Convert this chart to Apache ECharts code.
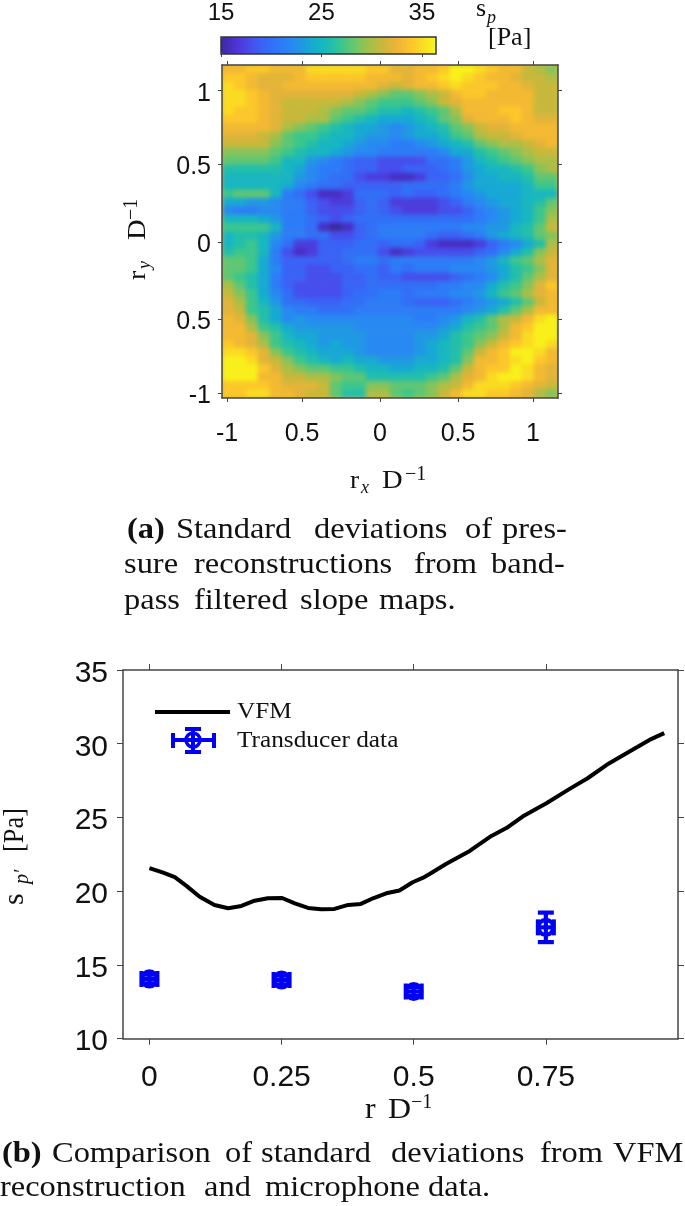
<!DOCTYPE html>
<html><head><meta charset="utf-8">
<style>html,body{margin:0;padding:0;background:#fff}
#c{position:absolute;left:0;top:0;width:685px;height:1206px;z-index:2}
#clip{position:absolute;left:222px;top:65px;width:336px;height:333px;overflow:hidden;background:#d0b83a;z-index:1}
#heat{width:336px;height:333px;filter:blur(2px)}</style>
<script src="https://cdn.jsdelivr.net/npm/echarts@6/dist/echarts.min.js"></script>
</head><body><div id="clip"><div id="heat"></div></div><div id="c"></div>
<script>
const mapRows = [
[33,33,34,34,33,33,33,35,35,35,35,35,34,34,32,32,33,33,34,36,36,35,34,33,33,31,30,29],
[34,34,33,32,32,32,33,34,34,34,34,34,33,33,33,32,33,34,35,36,35,34,33,33,32,31,31,30],
[35,34,33,32,32,33,33,33,33,33,33,33,33,32,31,32,33,33,34,35,34,34,34,33,33,32,31,31],
[35,35,34,33,32,32,32,32,32,32,32,31,30,29,28,28,29,30,31,33,34,34,33,33,33,33,31,31],
[35,35,34,33,32,31,31,31,31,31,30,29,28,27,27,27,28,29,31,32,33,33,33,33,33,33,31,31],
[35,34,34,33,32,31,31,31,30,29,28,28,27,26,26,25,26,27,28,30,33,33,33,34,34,33,31,31],
[34,34,34,33,32,31,31,30,30,28,27,26,25,24,24,24,25,26,28,29,32,33,33,33,34,33,32,32],
[33,33,33,33,32,30,29,28,27,26,25,24,24,23,22,23,24,25,26,28,29,31,32,32,33,33,33,33],
[32,32,32,31,30,28,27,27,26,25,25,24,23,23,22,23,24,24,25,27,28,30,31,31,32,33,33,33],
[31,31,31,31,29,28,27,26,25,25,24,23,22,22,21,21,22,23,24,25,26,28,29,30,30,31,32,33],
[29,29,29,29,28,27,26,25,25,24,23,22,22,21,21,21,21,21,22,24,24,26,27,28,29,30,31,31],
[28,28,28,28,27,25,25,23,22,21,20,19,19,18,18,18,18,20,20,21,23,25,26,27,28,29,30,30],
[26,26,26,26,26,25,24,22,21,21,20,19,19,18,18,19,19,19,20,21,23,24,25,25,26,27,29,30],
[25,25,25,25,25,25,23,22,21,20,20,18,17,17,16,16,17,19,19,20,22,24,24,25,25,26,28,28],
[25,25,25,25,25,24,22,21,20,20,19,19,19,19,19,20,20,20,20,21,23,24,24,24,24,25,27,27],
[27,28,28,28,25,21,20,18,16,16,17,20,20,20,19,20,19,19,20,21,22,23,24,24,24,25,25,25],
[24,24,23,23,22,21,21,19,18,17,17,19,20,19,17,17,17,17,18,19,21,22,23,24,24,25,26,28],
[22,21,21,22,22,21,21,19,18,18,18,19,20,19,18,17,17,17,18,18,19,21,22,23,24,25,27,29],
[25,25,25,24,23,21,21,20,19,18,19,20,20,20,20,20,20,20,20,20,20,21,22,23,24,25,27,30],
[27,27,27,27,25,21,21,20,16,15,16,19,20,21,21,21,21,21,21,21,22,22,23,23,25,26,28,31],
[25,26,26,25,23,21,21,20,20,18,18,19,20,21,21,21,21,20,19,19,20,21,23,24,25,26,28,29],
[25,26,27,25,22,20,17,17,19,19,19,20,20,19,20,20,19,17,16,16,16,17,19,21,22,24,26,30],
[26,27,27,25,21,18,16,17,19,19,20,20,20,18,16,17,18,18,18,18,18,19,20,22,24,26,29,31],
[28,28,27,24,21,19,19,19,19,19,20,21,21,20,21,21,21,21,21,21,21,22,23,25,27,28,30,32],
[28,28,27,24,22,19,19,18,18,19,19,20,20,19,21,20,21,21,21,22,22,22,23,24,26,27,29,32],
[28,27,26,24,21,19,19,18,18,18,19,19,20,19,19,18,18,18,18,19,20,21,22,24,26,28,30,32],
[30,28,26,24,21,19,18,18,18,18,19,19,20,20,20,20,20,20,21,21,22,22,24,26,27,29,32,34],
[31,29,27,24,22,20,18,18,18,18,19,20,20,21,21,20,21,21,21,22,22,23,25,27,28,30,32,33],
[32,30,27,25,23,20,20,19,19,19,20,20,21,21,21,20,19,19,19,20,21,22,23,24,26,28,31,33],
[32,31,27,26,24,22,21,21,20,20,20,21,21,21,21,21,21,21,21,21,22,23,24,26,28,30,33,33],
[33,32,29,26,24,22,23,22,22,22,22,22,22,22,22,22,21,21,22,23,25,26,28,30,31,33,35,36],
[33,33,30,27,26,24,23,23,23,23,23,22,22,22,22,22,22,22,23,24,26,27,28,30,33,34,36,36],
[33,33,32,29,27,25,24,24,23,23,23,23,22,22,22,22,23,23,24,26,27,28,29,31,33,35,36,36],
[34,33,32,30,27,26,25,24,23,24,23,23,22,22,22,22,23,24,25,26,27,29,31,33,34,35,36,35],
[35,35,34,32,29,27,26,25,24,24,24,23,22,22,22,22,23,24,25,26,28,31,33,34,36,36,35,33],
[36,36,35,32,31,29,27,26,25,24,25,24,24,23,23,23,24,24,25,26,29,33,33,34,35,36,34,33],
[36,36,36,34,32,30,29,28,28,27,27,26,25,25,24,24,25,25,26,28,31,33,34,34,36,35,33,32],
[36,36,36,33,33,31,31,30,30,29,28,28,26,26,26,26,26,27,28,30,32,33,35,36,36,35,33,32],
[34,34,34,34,33,32,32,32,31,28,27,27,29,29,28,28,28,29,30,31,33,35,35,35,34,33,32,31],
[34,34,35,35,33,33,32,31,31,28,26,26,30,30,28,27,28,29,31,33,35,35,34,34,33,32,30,29]
];
const colorStops = ['#3a2a9e','#4d30d0','#4a48ea','#3a62f6','#2f74f8','#2a84f6','#2098e4','#14b0cc','#1cbcb4','#3cc68c','#6cc66a','#a4c04a','#c8b83a','#ecb238','#fcc22c','#fadc22','#f8f818'];
const cbarTicks = [15,25,35];
const xMapTicks = [-1,-0.51,0,0.51,1];
const xMapLabels = ['-1','0.5','0','0.5','1'];
const yMapTicks = [-1,-0.51,0,0.515,1];
const yMapLabels = ['-1','0.5','0','0.5','1'];

const vfmR = [0,.026,.048,.07,.095,.123,.149,.174,.199,.224,.251,.275,.30,.325,.35,.376,.40,.423,.448,.473,.498,.517,.53,.561,.606,.647,.678,.706,.751,.795,.829,.87,.914,.946,.974];
const vfmS = [21.56,21.26,20.95,20.36,19.63,19.07,18.85,19.0,19.36,19.52,19.54,19.18,18.87,18.78,18.8,19.07,19.14,19.52,19.86,20.05,20.61,20.9,21.17,21.85,22.73,23.75,24.34,25.06,25.97,26.94,27.66,28.68,29.59,30.26,30.72];
const micR = [0,.25,.5,.75];
const micS = [14.05,13.98,13.2,17.55];
const micSErr = [.3,.3,.3,1.0];
const micRErr = [.015,.015,.015,.015];
const lineTicks = [0,.25,.5,.75];
const lineLabels = ['0','0.25','0.5','0.75'];

const SERIF='"Liberation Serif","Times New Roman",serif', SANS='"Liberation Sans",Arial,sans-serif';
const AX='#444', BLUE='#0000f5';
function T(x,base,text,size,o){o=o||{};
  return {type:'text',x:x,y:base-0.33*size,scaleX:o.sx||1,z:20,silent:true,
    style:{text:text,fill:'#111',font:(o.style||'')+' '+size+'px '+SERIF,textAlign:'left',textVerticalAlign:'middle'}};}
function R(baseX,y,text,size,o){o=o||{};
  return {type:'text',x:baseX-0.33*size,y:y,rotation:Math.PI/2,scaleX:o.sx||1,z:20,silent:true,
    style:{text:text,fill:'#111',font:(o.style||'')+' '+size+'px '+SERIF,textAlign:'left',textVerticalAlign:'middle'}};}
const SX=1.1, FS=29.5;
function line(base,words){return words.map(w=>T(w[1],base,w[0],FS,{sx:SX,style:w[2]||''}));}

const hData=[];mapRows.forEach((row,r)=>row.forEach((v,c)=>hData.push([c,r,v])));
const cats=n=>Array.from({length:n},(_,i)=>i);

function tickAxis(pos,extra){return Object.assign({type:'value',position:pos,z:5,
  axisLine:{show:true,onZero:false,lineStyle:{color:AX,width:1.5}},
  axisTick:{show:true,length:4,lineStyle:{color:AX,width:1}},
  axisLabel:{show:false},splitLine:{show:false}},extra);}

const mapLbl=(labels,ticks,margin,extra)=>Object.assign({show:true,customValues:ticks,fontFamily:SANS,fontSize:25,color:'#111',margin:margin,
   formatter:v=>labels[ticks.indexOf(v)]},extra);
const xM={min:-1.033,max:1.163,gridIndex:0,axisTick:{show:true,customValues:xMapTicks,length:4,lineStyle:{color:AX}}};
const yM={min:-1.03,max:1.17,gridIndex:0,axisTick:{show:true,customValues:yMapTicks,length:4,lineStyle:{color:AX}}};
const xL={min:-.05,max:1,gridIndex:2,axisTick:{show:true,customValues:lineTicks,length:6,lineStyle:{color:AX}}};
const yL={min:10,max:35,interval:5,gridIndex:2,axisTick:{show:true,length:6,lineStyle:{color:AX}}};

const heatOption={animation:false,
  grid:{left:0,top:0,width:336,height:333},
  xAxis:{type:'category',data:cats(28),show:false},
  yAxis:{type:'category',data:cats(40),inverse:true,show:false},
  visualMap:{show:false,type:'continuous',min:15,max:36.4,inRange:{color:colorStops}},
  series:[{type:'heatmap',data:hData,progressive:0,silent:true,itemStyle:{borderWidth:0}}]};

const option={animation:false,backgroundColor:'transparent',
 grid:[
  {left:222,top:65,width:336,height:333},
  {left:221,top:37,width:215,height:17,show:true,borderColor:'#333',borderWidth:1.5,z:6,backgroundColor:'transparent'},
  {left:123,top:670,width:555,height:368.7}
 ],
 xAxis:[
  tickAxis('bottom',Object.assign({},xM,{axisLabel:mapLbl(xMapLabels,xMapTicks,24)})),
  tickAxis('top',xM),
  tickAxis('top',{min:15,max:36.4,gridIndex:1,axisLine:{show:false},
     axisTick:{show:true,inside:true,customValues:cbarTicks,length:3,lineStyle:{color:AX}},
     axisLabel:{show:true,customValues:cbarTicks,fontFamily:SANS,fontSize:24,color:'#111',margin:12}}),
  tickAxis('bottom',Object.assign({},xL,{axisLabel:{show:true,customValues:lineTicks,fontFamily:SANS,fontSize:30,color:'#111',margin:24,
     formatter:v=>lineLabels[lineTicks.indexOf(v)]}})),
  tickAxis('top',xL)
 ],
 yAxis:[
  tickAxis('left',Object.assign({},yM,{axisLabel:mapLbl(yMapLabels,yMapTicks,11,{verticalAlign:'top',lineHeight:6})})),
  tickAxis('right',yM),
  tickAxis('left',{min:0,max:1,gridIndex:1,axisLine:{show:false},axisTick:{show:false}}),
  tickAxis('left',Object.assign({},yL,{axisLabel:{show:true,fontFamily:SANS,fontSize:30,color:'#111',margin:15,verticalAlign:'top',lineHeight:7}})),
  tickAxis('right',yL)
 ],
 visualMap:{type:'continuous',seriesIndex:2,min:15,max:36.4,orient:'horizontal',left:221,top:37,padding:0,itemWidth:17,itemHeight:215,
   calculable:false,realtime:false,hoverLink:false,text:null,showLabel:false,z:4,inRange:{color:colorStops}},
 series:[
  {type:'line',xAxisIndex:3,yAxisIndex:3,data:vfmR.map((r,i)=>[r,vfmS[i]]),showSymbol:false,smooth:false,silent:true,z:3,
   lineStyle:{color:'#000',width:4}},
  {type:'custom',xAxisIndex:3,yAxisIndex:3,silent:true,z:4,
   data:micR.map((r,i)=>[r,micS[i],micRErr[i],micSErr[i]]),
   renderItem:(p,api)=>{
     const x=api.value(0),y=api.value(1),ex=api.value(2),ey=api.value(3);
     const c=api.coord([x,y]),l=api.coord([x-ex,y]),r=api.coord([x+ex,y]),t=api.coord([x,y+ey]),b=api.coord([x,y-ey]);
     const st={stroke:BLUE,lineWidth:4.2,fill:'none'};
     const L=(a,bb,cc,dd)=>({type:'line',shape:{x1:a,y1:bb,x2:cc,y2:dd},style:st});
     return {type:'group',children:[
       L(l[0],l[1],r[0],r[1]),L(t[0],t[1],b[0],b[1]),
       L(t[0]-8,t[1],t[0]+8,t[1]),L(b[0]-8,b[1],b[0]+8,b[1]),
       L(l[0],l[1]-8,l[0],l[1]+8),L(r[0],r[1]-8,r[0],r[1]+8),
       {type:'circle',shape:{cx:c[0],cy:c[1],r:7.5},style:st}]};
   }},
  {type:'scatter',xAxisIndex:2,yAxisIndex:2,data:[],silent:true}
 ],
 graphic:[
  T(476,18,'s',26),T(487,24,'p',18,{style:'italic'}),
  T(488,47,'[Pa]',26),
  T(350,490,'r',25,{sx:SX}),T(361,494,'x',18,{style:'italic'}),T(382,490,'D',26,{sx:SX}),T(405,481,'−1',20),
  R(147,280,'r',25,{sx:SX}),R(151,269,'y',18,{style:'italic'}),R(147,240,'D',26,{sx:SX}),R(138,220,'−1',20),
  ...line(540,[['(a)',127,'bold'],['Standard',176],['deviations',314],['of',465],['pres-',502]]),
  ...line(575,[['sure',124],['reconstructions',194],['from',414],['band-',491]]),
  ...line(611,[['pass',124],['filtered',194],['slope',300],['maps.',379]]),
  ...line(1164,[['(b)',2,'bold'],['Comparison',52],['of',225],['standard',261],['deviations',391],['from',540],['VFM',613]]),
  ...line(1198,[['reconstruction',0],['and',204],['microphone',265],['data.',428]]),
  T(365,1120,'r',29,{sx:SX}),T(388,1120,'D',29,{sx:SX}),T(411,1109,'−1',20),
  R(25,905,'s',30),R(29,884,'p′',20,{style:'italic'}),R(25,852,'[Pa]',29,{sx:.91}),
  {type:'line',z:20,silent:true,shape:{x1:155,y1:712,x2:230,y2:712},style:{stroke:'#000',lineWidth:4}},
  ...[[173,740,214,740],[193,729,193,752],[185,729,201,729],[185,752,201,752],[173,733,173,748],[214,733,214,748]].map(a=>({type:'line',z:20,silent:true,shape:{x1:a[0],y1:a[1],x2:a[2],y2:a[3]},style:{stroke:BLUE,lineWidth:4}})),
  {type:'circle',z:20,silent:true,shape:{cx:193,cy:740,r:7},style:{stroke:BLUE,lineWidth:3.5,fill:'none'}},
  T(237,720,'VFM',23,{sx:1.1}),T(237,749,'Transducer data',23,{sx:1.1})
 ]
};
echarts.init(document.getElementById('heat'),null,{renderer:'canvas'}).setOption(heatOption);
echarts.init(document.getElementById('c'),null,{renderer:'canvas'}).setOption(option);
</script></body></html>
